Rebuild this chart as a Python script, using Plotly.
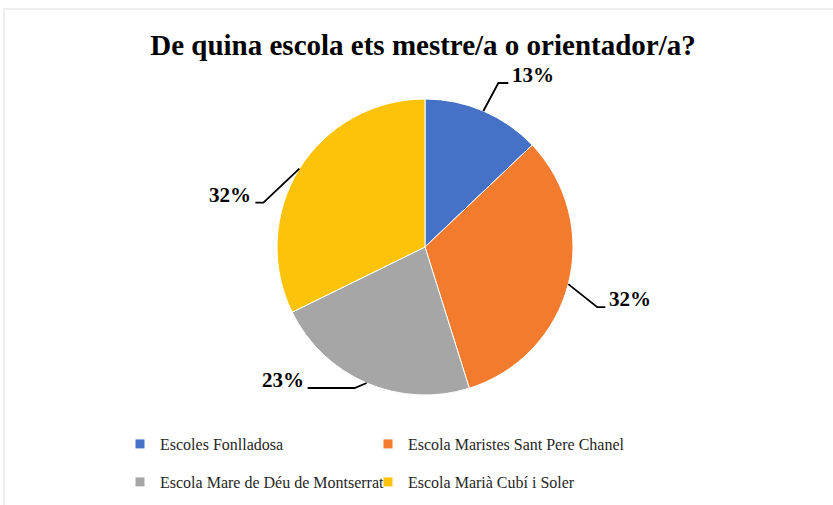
import math
import plotly.graph_objects as go

W, H = 833, 505

schools = ["Escoles Fonlladosa", "Escola Maristes Sant Pere Chanel",
           "Escola Mare de Déu de Montserrat", "Escola Marià Cubí i Soler"]
answers = [4, 10, 7, 10]
colors = ["#4572C6", "#F27B2D", "#A6A6A6", "#FDC20A"]

# pie placement (pixels)
cx, cy, r = 425, 247, 148
# leader line elbows and tails, pixels relative to slice edge
elbow = [(15, -28), (29, 23), (-12, 5), (-36, 34)]
tail = [10, 8, -47, -8]

serif = "Liberation Serif"


def to_paper(x, y):
    return x / W, 1 - y / H


fig = go.Figure()
fig.add_trace(go.Pie(labels=schools, values=answers, sort=False,
                     direction="clockwise", rotation=0, textinfo="none",
                     showlegend=False, hoverinfo="label+percent",
                     marker=dict(colors=colors, line=dict(color="white", width=1)),
                     domain=dict(x=[(cx - r) / W, (cx + r) / W],
                                 y=[1 - (cy + r) / H, 1 - (cy - r) / H])))

# legend entries, two rows like the original
for i, (name, col) in enumerate(zip(schools, colors)):
    fig.add_trace(go.Scatter(x=[None], y=[None], mode="markers", name=name,
                             marker=dict(symbol="square", size=9, color=col),
                             legend="legend" if i < 2 else "legend2",
                             legendwidth=203 if i % 2 == 0 else 320))

total = sum(answers)
start = 0
shapes = []
annotations = []
for i, v in enumerate(answers):
    mid = (start + v / 2) / total * 2 * math.pi
    start += v
    ex = cx + r * math.sin(mid)
    ey = cy - r * math.cos(mid)
    bx, by = ex + elbow[i][0], ey + elbow[i][1]
    tx = bx + tail[i]
    p0, p1, p2 = to_paper(ex, ey), to_paper(bx, by), to_paper(tx, by)
    shapes.append(dict(type="path", xref="paper", yref="paper",
                       path=f"M{p0[0]},{p0[1]} L{p1[0]},{p1[1]} L{p2[0]},{p2[1]}",
                       line=dict(color="black", width=1.8)))
    side = 1 if tail[i] > 0 else -1
    ax, ay = to_paper(tx + 2 * side, by - 8)
    annotations.append(dict(x=ax, y=ay, xref="paper", yref="paper",
                            text=f"{round(100 * v / total)}%", showarrow=False,
                            xanchor="left" if side > 0 else "right", yanchor="middle",
                            font=dict(family=serif, size=21, color="black", weight="bold")))

# thin frame of the chart area
shapes.append(dict(type="rect", xref="paper", yref="paper",
                   x0=4 / W, x1=1.05, y0=-0.05, y1=1 - 9 / H,
                   line=dict(color="#D9DDE3", width=1)))

leg = dict(orientation="h", xanchor="left", yanchor="top",
           bgcolor="rgba(0,0,0,0)", font=dict(family=serif, size=16, color="#262626"))

fig.update_layout(
    width=W, height=H,
    margin=dict(l=0, r=0, t=0, b=0),
    paper_bgcolor="white", plot_bgcolor="white",
    title=dict(text="De quina escola ets mestre/a o orientador/a?",
               x=423 / W, xanchor="center", y=1 - 45 / H, yanchor="middle",
               font=dict(family=serif, size=29, color="black", weight="bold")),
    xaxis=dict(visible=False), yaxis=dict(visible=False),
    legend=dict(leg, x=(160 - 40) / W, y=1 - 427 / H),
    legend2=dict(leg, x=(160 - 40) / W, y=1 - 465 / H),
    shapes=shapes, annotations=annotations,
)

fig.write_html("out.html", config={"displayModeBar": False},
               post_script="document.body.style.margin='0px';")
